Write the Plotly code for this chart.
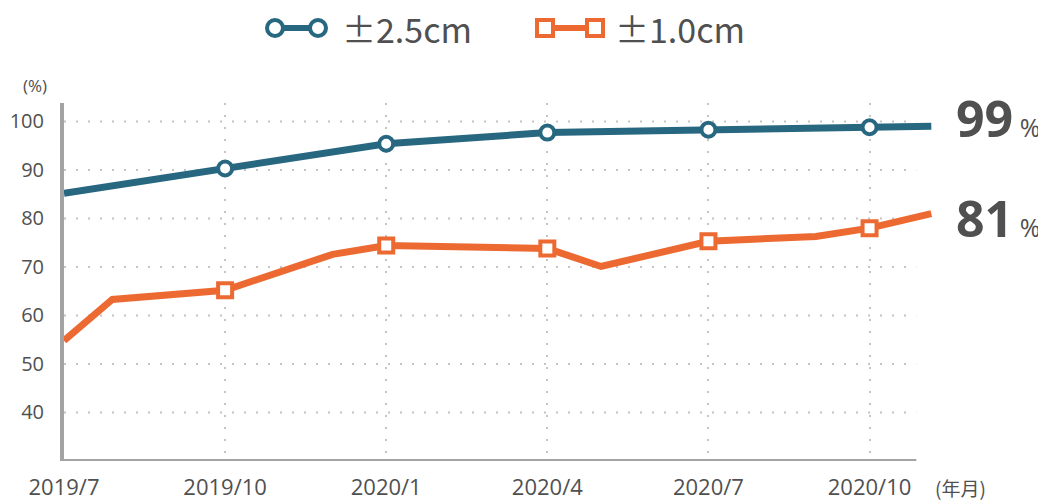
import plotly.graph_objects as go

# ---- data ----
tick_months = [0, 3, 6, 9, 12, 15]
tick_labels = ["2019/7", "2019/10", "2020/1", "2020/4", "2020/7", "2020/10"]

blue_x = [0, 3, 6, 9, 12, 15, 16.15]
blue_y = [85.2, 90.3, 95.4, 97.7, 98.3, 98.8, 99.0]

orange_x = [0, 0.9, 3, 5, 6, 9, 10, 12, 14, 15, 16.15]
orange_y = [54.8, 63.3, 65.2, 72.6, 74.4, 73.8, 70.1, 75.3, 76.3, 78.0, 81.0]

series_names = ["±2.5cm", "±1.0cm"]
y_ticks = [40, 50, 60, 70, 80, 90, 100]

# ---- style ----
BLUE = "#276780"
ORANGE = "#EC6A32"
TXT = "#505050"
AXIS = "#a3a3a3"
GRID = "#c4c4c4"
FONT = "Open Sans, Noto Sans CJK JP"
CJK = "Noto Sans CJK JP"
OFF = 8  # page body margin
W, H = 1046 - OFF, 502 - OFF
L, R, T, B = 64 - OFF, 112, 103 - OFF, 41
X_RANGE = [0, 16.2]
Y_RANGE = [30, 103.8]
X_AXIS_END = 15.87

def px(x):  # screen pixel -> paper
    return (x - OFF - L) / (W - L - R)

def py(y):
    return (H - B - (y - OFF)) / (H - T - B)

fig = go.Figure()

for xs, ys, col, sym in [(blue_x, blue_y, BLUE, "circle"), (orange_x, orange_y, ORANGE, "square")]:
    fig.add_trace(go.Scatter(x=xs, y=ys, mode="lines", line=dict(color=col, width=7),
                             showlegend=False, hoverinfo="skip"))
    mx = [x for x in xs if x in tick_months and x != 0]
    my = [y for x, y in zip(xs, ys) if x in tick_months and x != 0]
    fig.add_trace(go.Scatter(x=mx, y=my, mode="markers",
                             marker=dict(symbol=sym, size=14, color="white",
                                         line=dict(color=col, width=4)),
                             showlegend=False, cliponaxis=False))

shapes = []
for v in y_ticks:
    shapes.append(dict(type="line", xref="x", yref="y", x0=0, x1=X_AXIS_END, y0=v, y1=v,
                       line=dict(color=GRID, width=2, dash="2px,10px"), layer="below"))
shapes.append(dict(type="line", xref="x", yref="y", x0=0, x1=X_AXIS_END, y0=Y_RANGE[0], y1=Y_RANGE[0],
                   line=dict(color=AXIS, width=4), layer="above"))

# custom legend glyphs
LY = 28
shapes.append(dict(type="line", xref="paper", yref="paper", x0=px(275), x1=px(318), y0=py(LY), y1=py(LY),
                   line=dict(color=BLUE, width=6)))
for cx in (275, 318):
    shapes.append(dict(type="circle", xref="paper", yref="paper", xsizemode="pixel", ysizemode="pixel",
                       xanchor=px(cx), yanchor=py(LY), x0=-8, x1=8, y0=-8, y1=8,
                       fillcolor="white", line=dict(color=BLUE, width=4)))
shapes.append(dict(type="line", xref="paper", yref="paper", x0=px(545), x1=px(595), y0=py(LY), y1=py(LY),
                   line=dict(color=ORANGE, width=6)))
for cx in (545, 595):
    shapes.append(dict(type="rect", xref="paper", yref="paper", xsizemode="pixel", ysizemode="pixel",
                       xanchor=px(cx), yanchor=py(LY), x0=-8, x1=8, y0=-8, y1=8,
                       fillcolor="white", line=dict(color=ORANGE, width=4)))

annotations = [
    dict(text=series_names[0], xref="paper", yref="paper", x=px(340), y=py(LY + 1), xanchor="left",
         yanchor="middle", showarrow=False, font=dict(size=34, color=TXT, family=CJK)),
    dict(text=series_names[1], xref="paper", yref="paper", x=px(613), y=py(LY + 1), xanchor="left",
         yanchor="middle", showarrow=False, font=dict(size=34, color=TXT, family=CJK)),
    dict(text="(%)", xref="paper", yref="paper", x=px(35), y=py(85), xanchor="center", yanchor="middle",
         showarrow=False, font=dict(size=17, color=TXT, family=FONT)),
    dict(text="(年月)", xref="paper", yref="paper", x=px(933), y=py(487), xanchor="left", yanchor="middle",
         showarrow=False, font=dict(size=19, color=TXT, family=CJK)),
    dict(text=f"<b>{round(blue_y[-1])}</b><span style='font-size:25px'> %</span>", xref="paper", yref="y",
         x=px(954), y=blue_y[-1], yshift=8, xanchor="left", yanchor="middle", showarrow=False,
         font=dict(size=50, color=TXT, family=FONT)),
    dict(text=f"<b>{round(orange_y[-1])}</b><span style='font-size:25px'> %</span>", xref="paper", yref="y",
         x=px(954), y=orange_y[-1], yshift=-4, xanchor="left", yanchor="middle", showarrow=False,
         font=dict(size=50, color=TXT, family=FONT)),
]

fig.update_layout(
    width=W, height=H, margin=dict(l=L, r=R, t=T, b=B),
    plot_bgcolor="white", paper_bgcolor="white",
    font=dict(family=FONT, color=TXT, size=21),
    shapes=shapes, annotations=annotations, showlegend=False,
    xaxis=dict(range=X_RANGE, tickvals=tick_months, ticktext=tick_labels, showline=False,
               showgrid=True, gridcolor=GRID, gridwidth=2, griddash="2px,10px", automargin=False,
               zeroline=False, ticks="", ticklabelstandoff=11, tickfont=dict(size=22, color=TXT)),
    yaxis=dict(range=Y_RANGE, tickvals=y_ticks, showline=True, linecolor=AXIS, linewidth=4,
               showgrid=False, zeroline=False, ticks="", ticklabelstandoff=12, automargin=False,
               tickfont=dict(size=20, color=TXT)),
)

fig.write_html("out.html")
